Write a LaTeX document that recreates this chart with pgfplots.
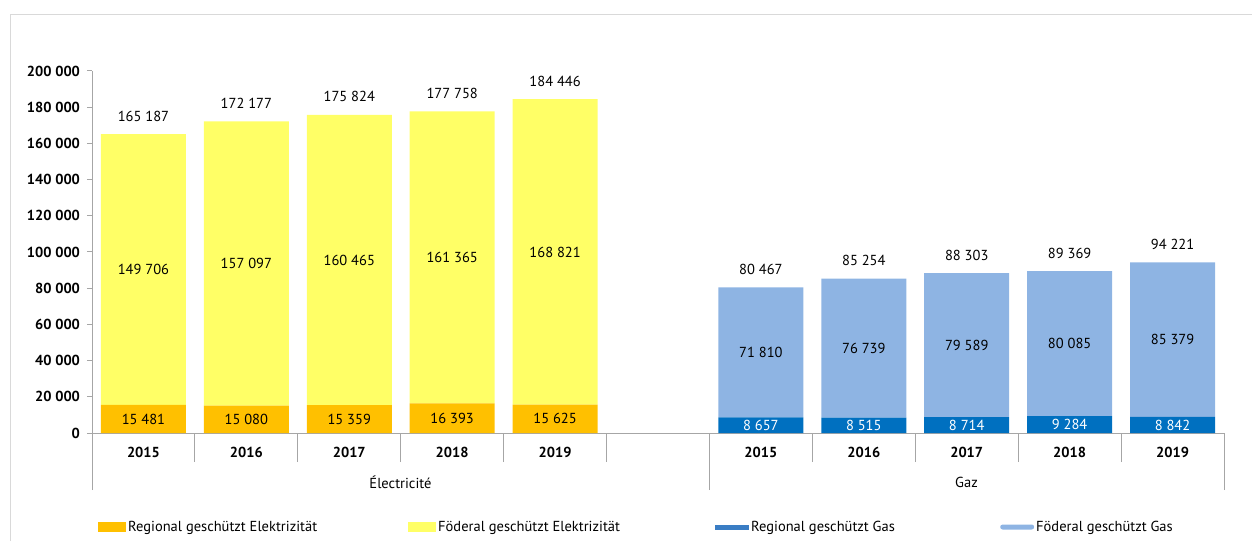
\documentclass[border=0pt]{standalone}
\usepackage{pgfplots}
\pgfplotsset{compat=1.18}
\usepackage{pgfplotstable}
\usepackage{fontspec}
\setmainfont{PT Sans}

\definecolor{elecReg}{HTML}{FFC000}
\definecolor{elecFed}{HTML}{FFFF66}
\definecolor{gasReg}{HTML}{0070C0}
\definecolor{gasRegLeg}{HTML}{3A7DC4}
\definecolor{gasFed}{HTML}{8EB4E3}
\definecolor{axisgray}{HTML}{A6A6A6}
\definecolor{framegray}{HTML}{D9D9D9}

% Protected customers per year: regional / federal, electricity and gas
\pgfplotstableread{
x  ereg   efed    greg  gfed
0  15481  149706  0     0
1  15080  157097  0     0
2  15359  160465  0     0
3  16393  161365  0     0
4  15625  168821  0     0
6  0      0       8657  71810
7  0      0       8515  76739
8  0      0       8714  79589
9  0      0       9284  80085
10 0      0       8842  85379
}\volumes

\pgfplotsset{
  volaxis/.style={
    at={(92pt,108pt)}, anchor=south west,
    scale only axis, width=1132pt, height=362pt,
    xmin=-0.5, xmax=10.5, ymin=0, ymax=200000,
    /pgf/number format/fixed,
    /pgf/number format/precision=0,
    /pgf/number format/1000 sep={\ },
    /pgf/number format/assume math mode=true,
  },
  lbl/.style={only marks, mark=text, text mark={}},
}

\begin{document}
\fontsize{14.5pt}{17pt}\selectfont
\begin{tikzpicture}[x=1pt, y=1pt]
\path[use as bounding box] (0,0) rectangle (1252,541);
\draw[framegray, line width=1pt] (10,0) -- (10,526) -- (1252,526);

\begin{axis}[volaxis,
  ybar stacked, bar width=85pt,
  axis x line=bottom, axis y line=left,
  axis line style={-, draw=axisgray, line width=1pt},
  tick align=outside,
  major tick length=29pt,
  scaled y ticks=false,
  tick label style={font=\bfseries},
  ytick={0,20000,...,200000},
  ytick style={draw=axisgray, line width=1pt, /pgfplots/major tick length=5pt},
  yticklabel style={xshift=22pt},
  xtick={-0.5,0.5,...,10.5},
  x tick label as interval,
  xticklabels={2015,2016,2017,2018,2019,{},2015,2016,2017,2018,2019,{}},
  xtick style={draw=axisgray, line width=1pt},
  xticklabel style={anchor=center, yshift=10pt},
  extra x ticks={-0.5,5.5,10.5},
  extra x tick labels={},
  extra x tick style={major tick length=57pt},
  legend columns=4,
  legend cell align=left,
  legend style={at={(axis description cs:0.0053,-0.2597)}, anchor=west,
    draw=none, fill=none, inner sep=0pt, column sep=0pt,
    nodes={inner sep=0pt},
    /tikz/every odd column/.append style={column sep=2pt}},
]
\addplot[fill=elecReg, draw=none,
  legend image code/.code={\fill[elecReg] (0pt,-5pt) rectangle (28pt,5pt);}]
  table[x=x, y=ereg] {\volumes};
\addlegendentry{\makebox[280pt][l]{Regional geschützt Elektrizität}}
\addplot[fill=elecFed, draw=none,
  legend image code/.code={\fill[elecFed] (0pt,-5pt) rectangle (28pt,5pt);}]
  table[x=x, y=efed] {\volumes};
\addlegendentry{\makebox[277pt][l]{Föderal geschützt Elektrizität}}
\addplot[fill=gasReg, draw=none,
  legend image code/.code={\fill[gasRegLeg] (0pt,-2.5pt) rectangle (34pt,2.5pt);}]
  table[x=x, y=greg] {\volumes};
\addlegendentry{\makebox[249pt][l]{Regional geschützt Gas}}
\addplot[fill=gasFed, draw=none,
  legend image code/.code={\fill[gasFed, rounded corners=2.5pt] (0pt,-2.5pt) rectangle (34pt,2.5pt);}]
  table[x=x, y=gfed] {\volumes};
\addlegendentry{Föderal geschützt Gas}
\end{axis}

% value labels
\begin{axis}[volaxis, hide axis,
  nodes near coords, point meta=explicit,
  every node near coord/.append style={anchor=center, inner sep=0pt},
]
\addplot[lbl, restrict x to domain=0:4]
  table[x=x, y expr=\thisrow{ereg}/2, meta=ereg] {\volumes};
\addplot[lbl, restrict x to domain=0:4]
  table[x=x, y expr=\thisrow{ereg}+\thisrow{efed}/2, meta=efed] {\volumes};
\addplot[lbl, restrict x to domain=0:4,
  every node near coord/.append style={yshift=18pt},
  point meta={\thisrow{ereg}+\thisrow{efed}}]
  table[x=x, y expr=\thisrow{ereg}+\thisrow{efed}] {\volumes};
\addplot[lbl, restrict x to domain=6:10,
  every node near coord/.append style={text=white}]
  table[x=x, y expr=\thisrow{greg}/2, meta=greg] {\volumes};
\addplot[lbl, restrict x to domain=6:10]
  table[x=x, y expr=\thisrow{greg}+\thisrow{gfed}/2, meta=gfed] {\volumes};
\addplot[lbl, restrict x to domain=6:10,
  every node near coord/.append style={yshift=18pt},
  point meta={\thisrow{greg}+\thisrow{gfed}}]
  table[x=x, y expr=\thisrow{greg}+\thisrow{gfed}] {\volumes};
\end{axis}

% group captions under the year row
\node at (400.5,59) {Électricité};
\node at (966.5,59) {Gaz};
\end{tikzpicture}
\end{document}
